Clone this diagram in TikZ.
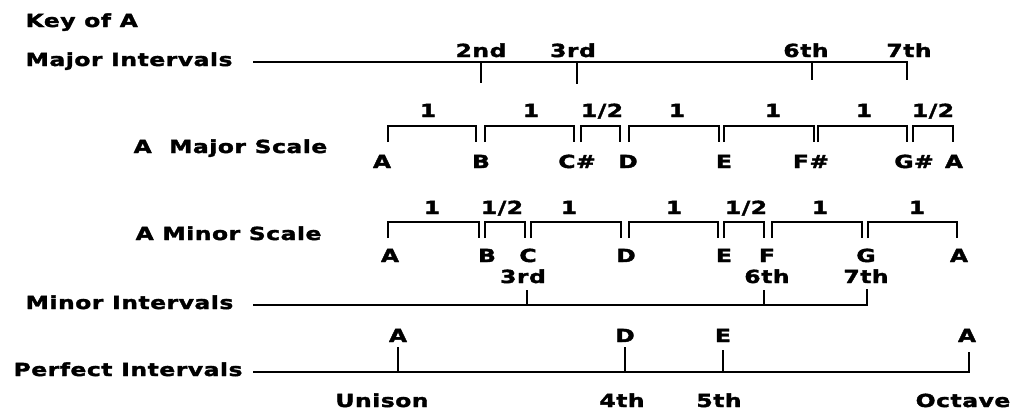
\documentclass[tikz,border=0pt]{standalone}
\usepackage{fontspec}
\newfontfamily\keyfont{DejaVu Sans}[FakeStretch=1.3,LetterSpace=3,FakeBold=2]
\tikzset{
  lbl/.style={font=\keyfont\bfseries\fontsize{18}{20}\selectfont, inner sep=0pt, anchor=base},
  row/.style={lbl, anchor=base west},
  every path/.style={line width=1.3pt}
}

\begin{document}
\begin{tikzpicture}[x=1pt,y=-1pt]
\useasboundingbox (0,0) rectangle (1016,413);
% row titles
\node[row] (key) at (25,27) {Key of A};
\node[row] (majint) at (25,66) {Major Intervals};
\node[row] (majscale) at (133,153) {A\ \ Major Scale};
\node[row] (minscale) at (135,240) {A Minor Scale};
\node[row] (minint) at (25,309) {Minor Intervals};
\node[row] (perfint) at (13,376) {Perfect Intervals};
% major intervals
\coordinate (majL) at (253,62);
\coordinate (majR) at (907,62);
\coordinate (majE) at (907,80);
\draw (majL) -- (majR) -- (majE);
\foreach \x/\y in {481/83,577/84,812/80}
{
  \draw (\x,62) -- (\x,\y);
}
\foreach \x/\t [count=\i] in {481/2nd,573/3rd,806/6th,909/7th}
{
  \node[lbl] (majiv\i) at (\x,57) {\t};
}
% A major scale
\foreach \a/\b in {388/476,485/574,581/620,629/719,724/814,818/907,913/953}
{
  \draw (\a,142) -- (\a,126) -- (\b,126) -- (\b,142);
}
\foreach \x/\t [count=\i] in {428/1,531/1,602/{1/2},677/1,773/1,864/1,933/{1/2}}
{
  \node[lbl] (majstep\i) at (\x,117) {\t};
}
\foreach \x/\t [count=\i] in {382/A,481/B,577/C\#,628/D,724/E,811/F\#,914/G\#,954/A}
{
  \node[lbl] (majnote\i) at (\x,168) {\t};
}
% A minor scale
\foreach \a/\b in {388/479,485/525,531/621,629/718,724/764,772/862,868/957}
{
  \draw (\a,238) -- (\a,222) -- (\b,222) -- (\b,238);
}
\foreach \x/\t [count=\i] in {432/1,502/{1/2},569/1,674/1,746/{1/2},820/1,917/1}
{
  \node[lbl] (minstep\i) at (\x,214) {\t};
}
\foreach \x/\t [count=\i] in {390/A,487/B,528/C,626/D,724/E,767/F,866/G,959/A}
{
  \node[lbl] (minnote\i) at (\x,262) {\t};
}
% minor intervals
\coordinate (minL) at (253,305);
\coordinate (minR) at (867,305);
\coordinate (minE) at (867,289);
\draw (minL) -- (minR) -- (minE);
\foreach \x in {527,764}
{
  \draw (\x,305) -- (\x,290);
}
\foreach \x/\t [count=\i] in {523/3rd,767/6th,866/7th}
{
  \node[lbl] (miniv\i) at (\x,283) {\t};
}
% perfect intervals
\coordinate (perL) at (253,372);
\coordinate (perR) at (969,372);
\coordinate (perE) at (969,352);
\draw (perL) -- (perR) -- (perE);
\foreach \x/\y in {398/347,625/347,723/350}
{
  \draw (\x,372) -- (\x,\y);
}
\foreach \x/\t [count=\i] in {398/A,625/D,723/E,967/A}
{
  \node[lbl] (pernote\i) at (\x,342) {\t};
}
\foreach \x/\t [count=\i] in {382/Unison,622/4th,719/5th,963/Octave}
{
  \node[lbl] (periv\i) at (\x,407) {\t};
}
\end{tikzpicture}
\end{document}
